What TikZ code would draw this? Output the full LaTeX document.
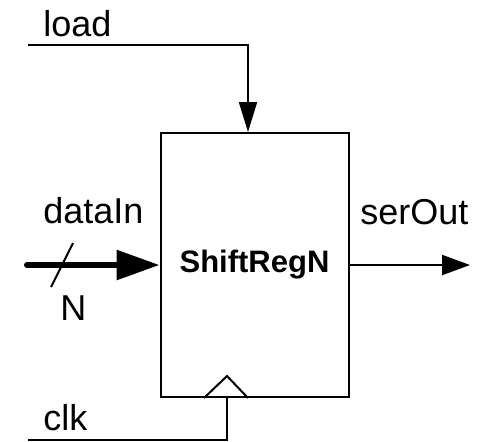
\documentclass[tikz,border=0pt]{standalone}
\usepackage{fontspec}
\setmainfont{Liberation Sans}
\usepackage{tikz}
\usetikzlibrary{arrows.meta, positioning, calc}

\begin{document}
\begin{tikzpicture}[
  x=0.5pt, y=-0.5pt,
  font=\fontsize{18}{21}\selectfont,
  wire/.style={line width=1pt},
  block/.style={
    rectangle, draw, line width=1pt, minimum width=94pt, minimum height=132pt,
    align=center, inner sep=0pt, font=\fontsize{15.5}{18}\selectfont\bfseries
  },
  lbl/.style={anchor=base west, inner sep=0pt},
  bus/.style={line width=3pt, line cap=round,
    -{Triangle[length=21.5pt, width=14.5pt]}}
]
\useasboundingbox (0,0) rectangle (481,441);

% Register block
\node[block] (reg) at (254.5,265) {ShiftRegN};

% Port ends
\coordinate (loadstart) at (28,45);
\coordinate (loadin) at (248,45);
\coordinate (datastart) at (27,265);
\coordinate (serend) at (470,265);
\coordinate (clkstart) at (28,440);
\coordinate (clkin) at (227,440);
\coordinate (busmark) at (62,265);

% Labels
\node[lbl] (loadlbl) at (43,36) {load};
\node[lbl] (datalbl) at (43,223) {dataIn};
\node[lbl] (widthlbl) at (60,320) {N};
\node[lbl] (serlbl) at (360,224) {serOut};
\node[lbl] (clklbl) at (43,430) {clk};

% Connections
\draw[wire, -{Triangle[length=15pt, width=9pt]}] (loadstart) -- (loadin) -- (loadin |- reg.north);
\draw[bus] (datastart) -- (reg.west);
\draw[wire] ([shift={(11,-22)}]busmark) -- ([shift={(-11,22)}]busmark);
\draw[wire, -{Triangle[length=14pt, width=10pt]}] (reg.east) -- (serend);
\draw[wire] (clkstart) -- (clkin) -- (clkin |- reg.south);

% Clock input
\draw[wire] ([xshift=-11.5pt]reg.south -| clkin) -- ([yshift=11pt]reg.south -| clkin)
  -- ([xshift=10.5pt]reg.south -| clkin);

\end{tikzpicture}
\end{document}
